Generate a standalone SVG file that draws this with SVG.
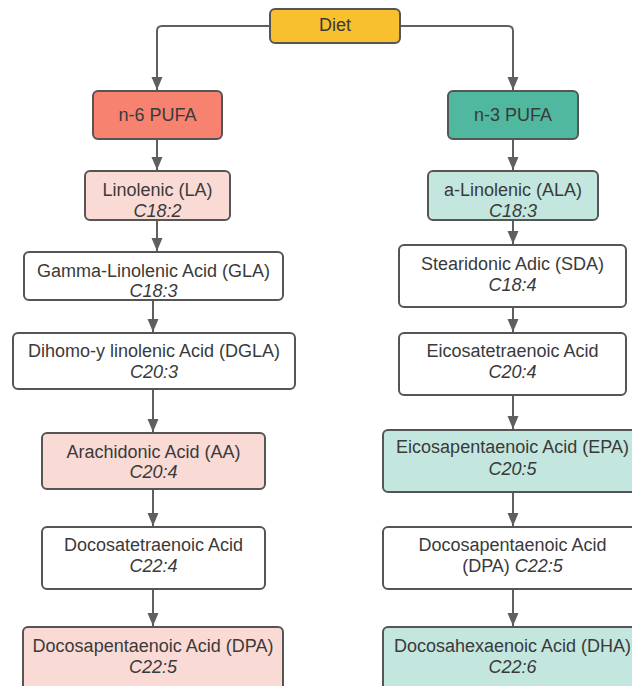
<svg xmlns="http://www.w3.org/2000/svg" width="632" height="686" viewBox="0 0 632 686">
<defs>
<marker id="arr" markerUnits="userSpaceOnUse" markerWidth="12" markerHeight="13" viewBox="0 0 12 13" refX="13" refY="6" orient="auto">
<path d="M0,0.5 L13,6 L0,11.5 Z" fill="#5f5f5f"/>
</marker>
</defs>
<style>
.box{stroke:#555;stroke-width:2}
.w{fill:#fff}
.pink{fill:#fadad5}
.teal{fill:#c3e7df}
.t{font-family:"Liberation Sans",Arial,sans-serif;font-size:18px;fill:#3a3a3a;text-anchor:middle}
.i{font-style:italic}
.c{fill:none;stroke:#5f5f5f;stroke-width:2;marker-end:url(#arr)}
</style>
<rect width="632" height="686" fill="#fff"/>
<g id="connectors">
<path class="c" d="M270,26 H162 Q157,26 157,31 V90"/>
<path class="c" d="M400,26 H508 Q513,26 513,31 V90"/>
<path class="c" d="M157,139 V170"/>
<path class="c" d="M157,220 V251"/>
<path class="c" d="M153,300 V332"/>
<path class="c" d="M153,389 V432"/>
<path class="c" d="M153,489 V526"/>
<path class="c" d="M153,589 V626"/>
<path class="c" d="M513,139 V170"/>
<path class="c" d="M513,220 V244"/>
<path class="c" d="M513,307 V332"/>
<path class="c" d="M513,395 V429"/>
<path class="c" d="M513,492 V526"/>
<path class="c" d="M513,589 V626"/>
</g>
<g id="diet">
<rect class="box" x="270" y="9" width="130" height="34" rx="5" fill="#f8c02f"/>
<text class="t" x="335" y="31">Diet</text>
</g>
<g id="n6">
<rect class="box" x="93" y="91" width="129" height="48" rx="5" fill="#f7826f"/>
<text class="t" x="157.5" y="121">n-6 PUFA</text>
</g>
<g id="n3">
<rect class="box" x="448" y="91" width="130" height="48" rx="5" fill="#4fb89f"/>
<text class="t" x="513" y="121">n-3 PUFA</text>
</g>
<g id="la">
<rect class="box pink" x="85" y="171" width="145" height="49" rx="5"/>
<text class="t" x="157.5" y="196">Linolenic (LA)</text>
<text class="t i" x="157.5" y="217">C18:2</text>
</g>
<g id="gla">
<rect class="box w" x="24" y="252" width="259" height="48" rx="5"/>
<text class="t" x="153.5" y="277">Gamma-Linolenic Acid (GLA)</text>
<text class="t i" x="153.5" y="297">C18:3</text>
</g>
<g id="dgla">
<rect class="box w" x="13" y="333" width="282" height="56" rx="5"/>
<text class="t" x="154" y="357">Dihomo-y linolenic Acid (DGLA)</text>
<text class="t i" x="154" y="378">C20:3</text>
</g>
<g id="aa">
<rect class="box pink" x="42" y="433" width="223" height="56" rx="5"/>
<text class="t" x="153.5" y="458">Arachidonic Acid (AA)</text>
<text class="t i" x="153.5" y="478">C20:4</text>
</g>
<g id="dta">
<rect class="box w" x="42" y="527" width="223" height="62" rx="5"/>
<text class="t" x="153.5" y="551">Docosatetraenoic Acid</text>
<text class="t i" x="153.5" y="572">C22:4</text>
</g>
<g id="dpa6">
<rect class="box pink" x="23" y="627" width="260" height="80" rx="5"/>
<text class="t" x="153" y="652">Docosapentaenoic Acid (DPA)</text>
<text class="t i" x="153" y="673">C22:5</text>
</g>
<g id="ala">
<rect class="box teal" x="428" y="171" width="170" height="49" rx="5"/>
<text class="t" x="513" y="196">a-Linolenic (ALA)</text>
<text class="t i" x="513" y="217">C18:3</text>
</g>
<g id="sda">
<rect class="box w" x="399" y="245" width="227" height="62" rx="5"/>
<text class="t" x="512.5" y="270">Stearidonic Adic (SDA)</text>
<text class="t i" x="512.5" y="291">C18:4</text>
</g>
<g id="eta">
<rect class="box w" x="399" y="333" width="227" height="62" rx="5"/>
<text class="t" x="512.5" y="357">Eicosatetraenoic Acid</text>
<text class="t i" x="512.5" y="378">C20:4</text>
</g>
<g id="epa">
<rect class="box teal" x="383" y="430" width="260" height="62" rx="5"/>
<text class="t" x="512.5" y="453">Eicosapentaenoic Acid (EPA)</text>
<text class="t i" x="512.5" y="475">C20:5</text>
</g>
<g id="dpa3">
<rect class="box w" x="383" y="527" width="260" height="62" rx="5"/>
<text class="t" x="512.5" y="551">Docosapentaenoic Acid</text>
<text class="t" x="512.5" y="572">(DPA) <tspan class="i">C22:5</tspan></text>
</g>
<g id="dha">
<rect class="box teal" x="383" y="627" width="260" height="80" rx="5"/>
<text class="t" x="512.5" y="652">Docosahexaenoic Acid (DHA)</text>
<text class="t i" x="512.5" y="673">C22:6</text>
</g>
</svg>
